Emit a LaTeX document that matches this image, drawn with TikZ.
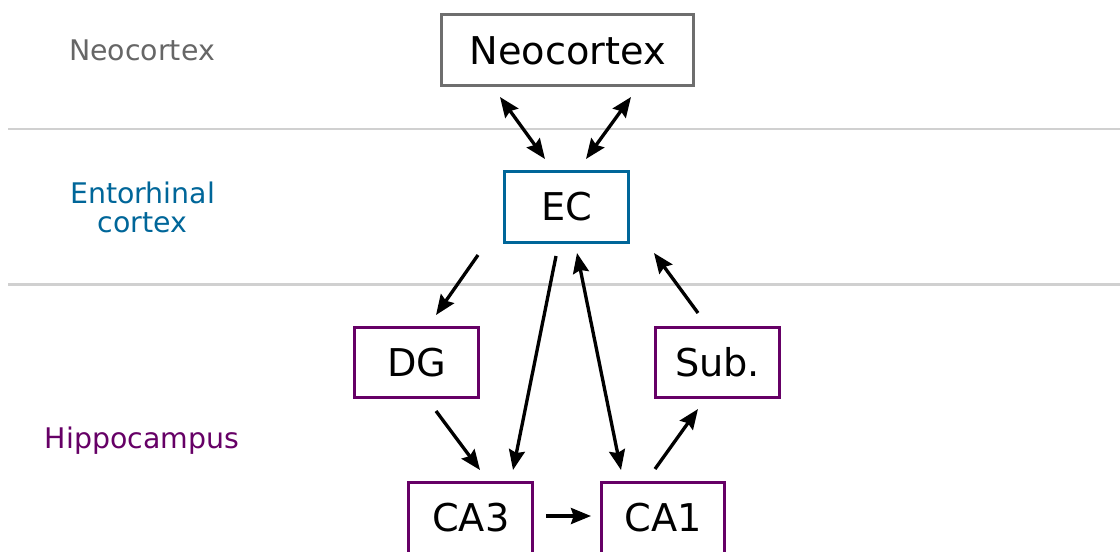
\documentclass[tikz,border=0pt]{standalone}
\usepackage{fontspec}
\setmainfont{DejaVu Sans}
\usetikzlibrary{arrows.meta,calc}
\definecolor{ecblue}{RGB}{0,102,153}
\definecolor{hippurple}{RGB}{102,0,102}
\definecolor{neogray}{RGB}{102,102,102}
\definecolor{boxgray}{RGB}{110,110,110}
\definecolor{bandline}{RGB}{208,208,208}

\begin{document}
\begin{tikzpicture}[x=0.75pt,y=-0.75pt,
  region/.style={draw, line width=2.2pt, fill=white, inner sep=0pt,
    minimum width=92.8pt, minimum height=52.8pt,
    font=\fontsize{28.7}{35}\selectfont, text height=20.9pt, text depth=0pt},
  bandlabel/.style={font=\fontsize{21.3}{21.75}\selectfont, align=center, inner sep=0pt},
  divider/.style={draw=bandline, line width=2pt},
  arr/.style={-{Stealth[length=15pt, width=12pt, inset=2pt]}, line width=2.5pt},
  biarr/.style={{Stealth[length=15pt, width=12pt, inset=2pt]}-{Stealth[length=15pt, width=12pt, inset=2pt]}, line width=2.5pt}
]
\useasboundingbox (0,0) rectangle (1120,551);

% band dividers
\coordinate (d1a) at (8,129);   \coordinate (d1b) at (1120,129);
\coordinate (d2a) at (8,284.5); \coordinate (d2b) at (1120,284.5);
\draw[divider] (d1a) -- (d1b);
\draw[divider] (d2a) -- (d2b);

% band labels
\node[bandlabel, text=neogray, anchor=base] (lneo) at (142,60.7) {Neocortex};
\node[bandlabel, text=ecblue] (lec) at (142.5,207) {Entorhinal\\cortex};
\node[bandlabel, text=hippurple, anchor=base] (lhip) at (142,448.3) {Hippocampus};

% regions
\node[region, draw=boxgray, minimum width=189.2pt, minimum height=53.4pt] (neo) at (567.7,50.3) {Neocortex};
\node[region, draw=ecblue] (ec) at (566.7,207) {EC};
\node[region, draw=hippurple] (dg) at (416.7,362.3) {DG};
\node[region, draw=hippurple] (sub) at (717.5,362.4) {Sub.};
\node[region, draw=hippurple] (ca3) at (470.8,518) {CA3};
\node[region, draw=hippurple] (ca1) at (663,518) {CA1};

% connections
\draw[biarr] ($(neo)+(-67.7,46.7)$) -- ($(ec)+(-21.7,-48)$);
\draw[biarr] ($(neo)+(63.3,46.7)$) -- ($(ec)+(19.3,-48)$);
\draw[arr] ($(ec)+(-88.7,48)$) -- ($(dg)+(19.3,-47.3)$);
\draw[arr] ($(ec)+(-10.7,49)$) -- ($(ca3)+(42.2,-48)$);
\draw[biarr] ($(ec)+(10.3,46)$) -- ($(ca1)+(-42,-48)$);
\draw[arr] ($(sub)+(-19.5,-49.4)$) -- ($(ec)+(87.3,46)$);
\draw[arr] ($(dg)+(19.3,48.7)$) -- ($(ca3)+(9.2,-48)$);
\draw[arr] ($(ca1)+(-8,-49)$) -- ($(sub)+(-19.5,46.6)$);
\draw[arr] ($(ca3)+(75.2,-2)$) -- ($(ca1)+(-72,-2)$);
\end{tikzpicture}
\end{document}
